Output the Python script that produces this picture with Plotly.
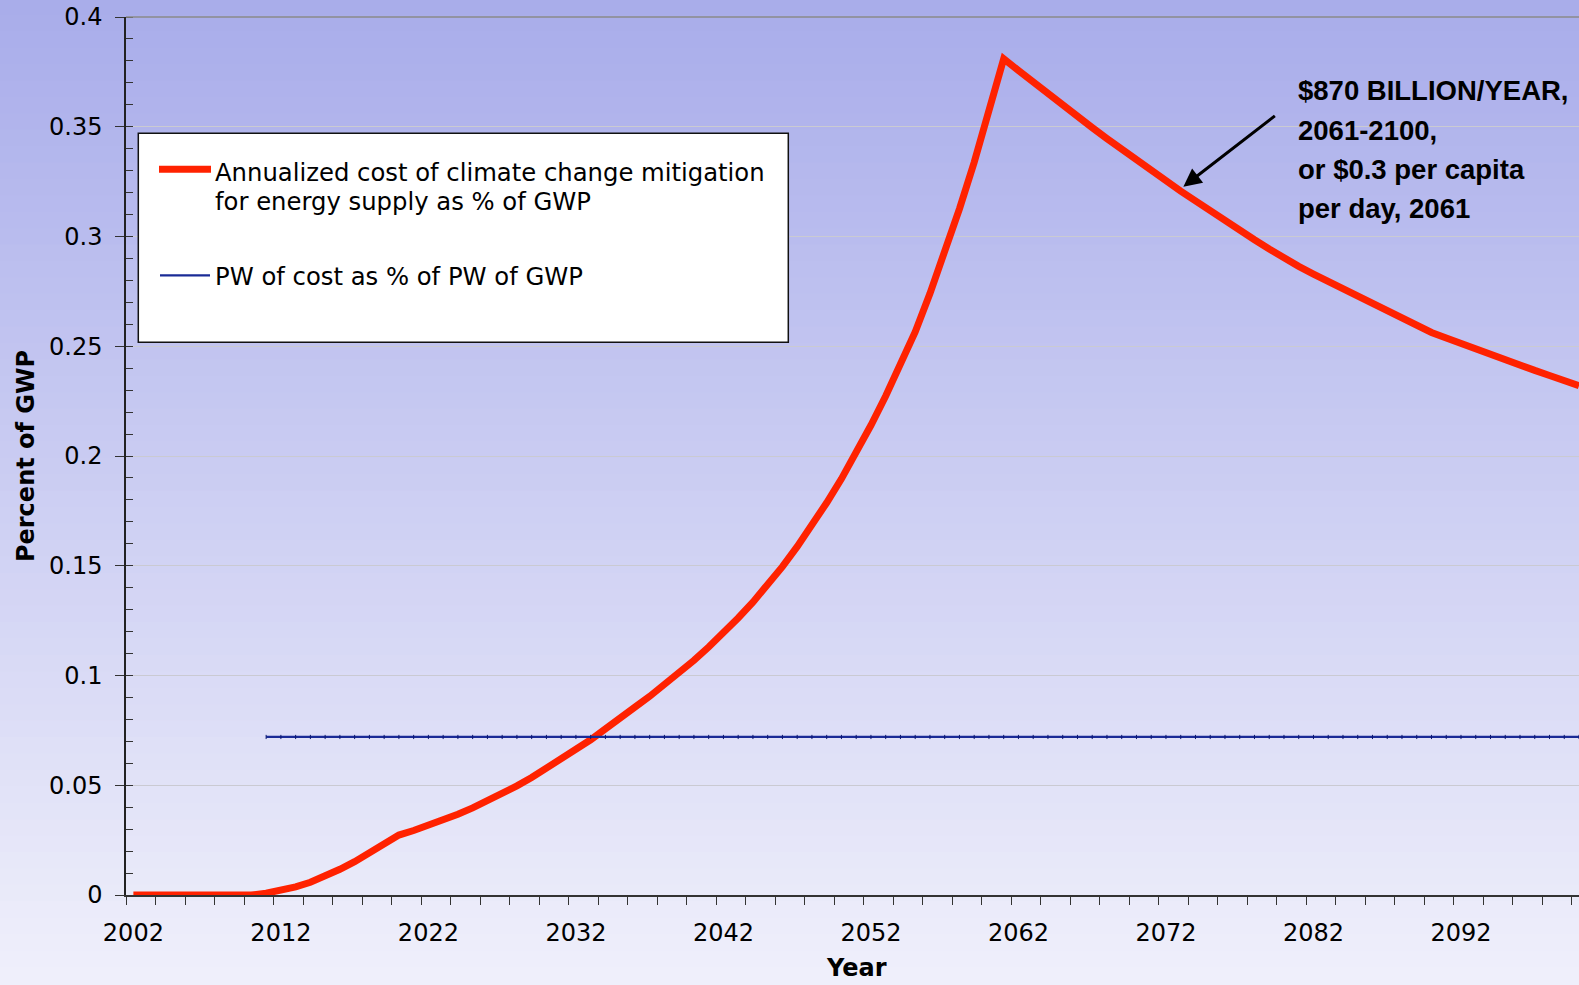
import base64
import plotly.graph_objects as go

# ---- data -------------------------------------------------------------
years = list(range(2002, 2101))

# Annualized cost of climate change mitigation for energy supply, % of GWP
cost_pct_gwp = [
    0.0, 0.0, 0.0, 0.0, 0.0, 0.0, 0.0, 0.0, 0.0,              # 2002-2010
    0.0008, 0.0020, 0.0037, 0.0058, 0.0085,                   # 2011-2015
    0.0117, 0.0152, 0.0190, 0.0230, 0.0273,                   # 2016-2020
    0.0294, 0.0317, 0.0342, 0.0368, 0.0397,                   # 2021-2025
    0.0428, 0.0461, 0.0497, 0.0535, 0.0577,                   # 2026-2030
    0.0618, 0.0661, 0.0707, 0.0757, 0.0810,                   # 2031-2035
    0.0856, 0.0905, 0.0957, 0.1011, 0.1069,                   # 2036-2040
    0.1130, 0.1194, 0.1262, 0.1334, 0.1410,                   # 2041-2045
    0.1496, 0.1587, 0.1684, 0.1787, 0.1896,                   # 2046-2050
    0.2014, 0.2140, 0.2273, 0.2415, 0.2565,                   # 2051-2055
    0.2740, 0.2926, 0.3126, 0.3338, 0.3566,                   # 2056-2060
    0.3810, 0.3756, 0.3702, 0.3649, 0.3597,                   # 2061-2065
    0.3546, 0.3496, 0.3446, 0.3397, 0.3348,                   # 2066-2070
    0.3301, 0.3254, 0.3207, 0.3162, 0.3116,                   # 2071-2075
    0.3072, 0.3028, 0.2985, 0.2943, 0.2901,                   # 2076-2080
    0.2864, 0.2829, 0.2795, 0.2760, 0.2726,                   # 2081-2085
    0.2693, 0.2660, 0.2627, 0.2595, 0.2563,                   # 2086-2090
    0.2538, 0.2512, 0.2487, 0.2463, 0.2438,                   # 2091-2095
    0.2414, 0.2390, 0.2367, 0.2343, 0.2320,                   # 2096-2100
]

# Present worth of cost as % of present worth of GWP (single ratio, 2011-2100)
pw_start_year = 2011
pw_pct = 0.072
pw_years = [y for y in years if y >= pw_start_year]
pw_values = [pw_pct for _ in pw_years]

x_tick_labels = ["2002", "2012", "2022", "2032", "2042", "2052", "2062", "2072", "2082", "2092"]
y_tick_vals = [0, 0.05, 0.1, 0.15, 0.2, 0.25, 0.3, 0.35, 0.4]
y_tick_text = ["0", "0.05", "0.1", "0.15", "0.2", "0.25", "0.3", "0.35", "0.4"]

callout_lines = ["$870 BILLION/YEAR,", "2061-2100,", "or $0.3 per capita", "per day, 2061"]
legend_cost_lines = ["Annualized cost of climate change mitigation", "for energy supply as % of GWP"]
legend_pw_text = "PW of cost as % of PW of GWP"
x_title = "Year"
y_title = "Percent of GWP"

# ---- layout geometry --------------------------------------------------
W, H = 1579, 985
ML, MR, MT, MB = 126, 0, 17, 90
PW_ = W - ML - MR
PH_ = H - MT - MB
FONT = "DejaVu Sans"
RED = "#ff2200"
NAVY = "#1a2b96"
TOP_RGB = (168, 172, 234)
BOT_RGB = (240, 240, 251)


def px_x(x):
    return (x - ML) / PW_


def px_y(y):
    return (H - MB - y) / PH_


fig = go.Figure()

fig.add_trace(go.Scatter(
    x=years, y=cost_pct_gwp, mode="lines",
    line=dict(color=RED, width=7),
    name="Annualized cost of climate change mitigation for energy supply as % of GWP",
    showlegend=False,
))
fig.add_trace(go.Scatter(
    x=pw_years, y=pw_values, mode="lines+markers",
    line=dict(color=NAVY, width=2.2),
    marker=dict(symbol="line-ns", size=3, line=dict(color="#0c1870", width=1)),
    name=legend_pw_text,
    showlegend=False,
))

shapes = []

# fallback banded background (covered by the gradient image below)
n_bands = 60
y_top, y_bot = px_y(0), px_y(H)
x_left, x_right = px_x(0), px_x(W)
for i in range(n_bands):
    t = (i + 0.5) / n_bands
    c = [round(TOP_RGB[k] + (BOT_RGB[k] - TOP_RGB[k]) * t) for k in range(3)]
    ya = y_top + (y_bot - y_top) * (i - 0.1) / n_bands
    yb = y_top + (y_bot - y_top) * (i + 1.1) / n_bands
    shapes.append(dict(type="rect", xref="paper", yref="paper", layer="below",
                       x0=x_left, x1=x_right, y0=yb, y1=ya,
                       fillcolor=f"rgb({c[0]},{c[1]},{c[2]})", line=dict(width=0)))

# smooth vertical gradient for the chart background
grad_svg = (
    '<svg xmlns="http://www.w3.org/2000/svg" width="100" height="100" '
    'viewBox="0 0 100 100" preserveAspectRatio="none">'
    '<defs><linearGradient id="g" x1="0" y1="0" x2="0" y2="1">'
    f'<stop offset="0" stop-color="rgb{TOP_RGB}"/>'
    f'<stop offset="1" stop-color="rgb{BOT_RGB}"/>'
    '</linearGradient></defs>'
    '<rect x="0" y="0" width="100" height="100" fill="url(#g)"/></svg>'
)
grad_uri = "data:image/svg+xml;base64," + base64.b64encode(grad_svg.encode()).decode()

# plot-area top border
shapes.append(dict(type="line", xref="paper", yref="paper", x0=0, x1=1, y0=1, y1=1,
                   line=dict(color="#8a8a8a", width=1.5), layer="above"))

# legend box
shapes.append(dict(type="rect", xref="paper", yref="paper", layer="above",
                   x0=px_x(138.3), x1=px_x(788.3), y0=px_y(342.3), y1=px_y(133.3),
                   fillcolor="white", line=dict(color="#111111", width=1.5)))
shapes.append(dict(type="line", xref="paper", yref="paper", layer="above",
                   x0=px_x(159), x1=px_x(211), y0=px_y(169.3), y1=px_y(169.3),
                   line=dict(color=RED, width=7)))
shapes.append(dict(type="line", xref="paper", yref="paper", layer="above",
                   x0=px_x(160), x1=px_x(210), y0=px_y(275.3), y1=px_y(275.3),
                   line=dict(color=NAVY, width=2.2)))

annotations = []
for txt, yc in zip(legend_cost_lines, [172.5, 202.0]):
    annotations.append(dict(xref="paper", yref="paper", x=px_x(213), y=px_y(yc),
                            xanchor="left", yanchor="middle", showarrow=False, text=txt,
                            font=dict(family=FONT, size=24.3, color="black")))
annotations.append(dict(xref="paper", yref="paper", x=px_x(213), y=px_y(276.5),
                        xanchor="left", yanchor="middle", showarrow=False, text=legend_pw_text,
                        font=dict(family=FONT, size=24.3, color="black")))

for txt, yc in zip(callout_lines, [90.8, 130.3, 169.5, 208.6]):
    annotations.append(dict(xref="paper", yref="paper", x=px_x(1296), y=px_y(yc),
                            xanchor="left", yanchor="middle", showarrow=False,
                            text="<b>" + txt + "</b>",
                            font=dict(family="Liberation Sans", size=27.5, color="black")))

# arrow pointing at the declining cost curve
annotations.append(dict(x=2073.18, y=0.3227, xref="x", yref="y", text="",
                        showarrow=True, ax=93, ay=-72, arrowhead=2, arrowsize=1.2,
                        arrowwidth=3, arrowcolor="black", standoff=0))

# x-axis title, centred under the full category span
annotations.append(dict(xref="paper", yref="paper", x=px_x(856), y=px_y(968),
                        xanchor="center", yanchor="middle", showarrow=False,
                        text="<b>" + x_title + "</b>",
                        font=dict(family=FONT, size=24, color="black")))

fig.update_layout(
    width=W, height=H,
    margin=dict(l=ML, r=MR, t=MT, b=MB, pad=0),
    paper_bgcolor=f"rgb{BOT_RGB}",
    plot_bgcolor="rgba(0,0,0,0)",
    showlegend=False,
    shapes=shapes,
    annotations=annotations,
    images=[dict(source=grad_uri, xref="paper", yref="paper",
                 x=x_left, y=y_top, sizex=x_right - x_left, sizey=y_top - y_bot,
                 xanchor="left", yanchor="top", sizing="stretch", layer="below")],
    font=dict(family=FONT, color="black"),
)

fig.update_xaxes(
    range=[2001.5, 2100.0],
    automargin=False,
    tickmode="array",
    tickvals=[int(t) for t in x_tick_labels],
    ticktext=x_tick_labels,
    ticks="",
    ticklabelstandoff=15,
    tickfont=dict(family=FONT, size=24, color="black"),
    minor=dict(tickmode="array", tickvals=[2001.5 + 2 * k for k in range(50)],
               ticks="outside", ticklen=8, tickcolor="#333333", tickwidth=1.2, showgrid=False),
    showgrid=False, zeroline=False,
    showline=True, linecolor="#333333", linewidth=1.5,
)

fig.update_yaxes(
    range=[0, 0.4],
    automargin=False,
    tickmode="array",
    tickvals=y_tick_vals,
    ticktext=y_tick_text,
    ticks="outside", ticklen=9, tickcolor="#333333", tickwidth=1.2,
    ticklabelstandoff=8,
    tickfont=dict(family=FONT, size=24, color="black"),
    minor=dict(dtick=0.01, tick0=0, ticks="inside", ticklen=7, tickcolor="#333333",
               tickwidth=1.2, showgrid=False),
    showgrid=True, gridcolor="#cacad2", gridwidth=1.2,
    zeroline=False,
    showline=True, linecolor="#222222", linewidth=1.5,
    title=dict(text="<b>" + y_title + "</b>", font=dict(family=FONT, size=24, color="black"), standoff=8),
)

fig.write_html("out.html")
